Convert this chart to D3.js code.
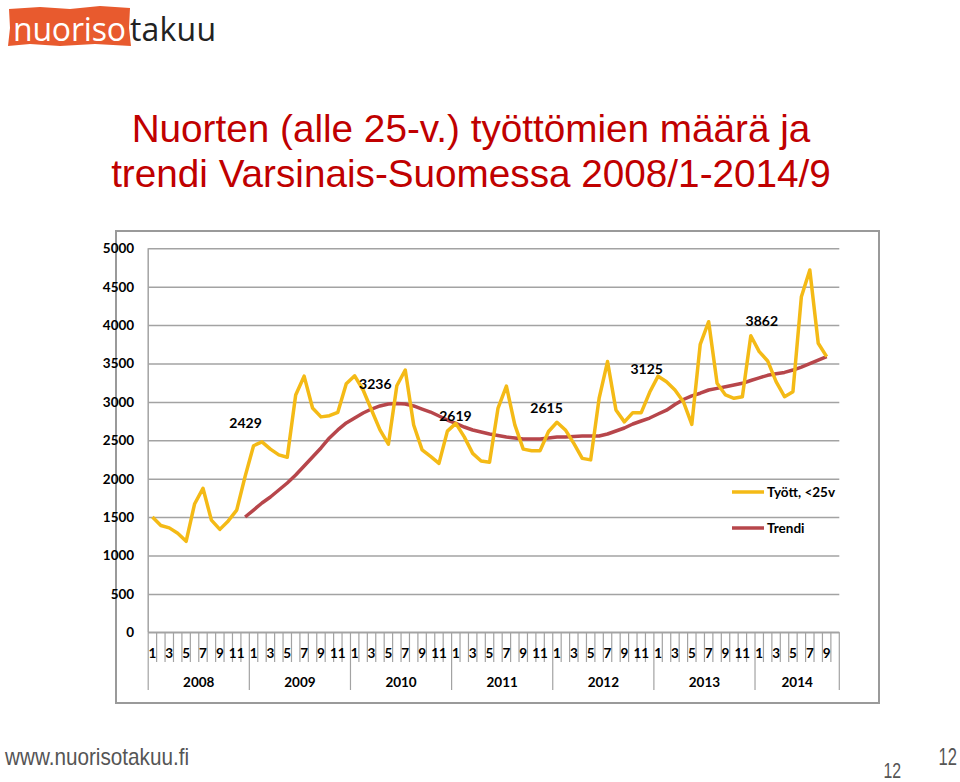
<!DOCTYPE html>
<html><head><meta charset="utf-8">
<script src="https://cdn.jsdelivr.net/npm/d3@7"></script>
<style>body{margin:0;background:#fff;} svg{display:block}</style>
</head><body><svg id="c" width="960" height="782"></svg>
<script>
// ---------- data ----------
const years = ["2008","2009","2010","2011","2012","2013","2014"];
const monthsPerYear = [12,12,12,12,12,12,10];
const youngUnemployed = [
  1500,1390,1360,1290,1185,1670,1875,1460,1340,1450,1590,2030,
  2429,2480,2385,2310,2280,3090,3335,2920,2805,2820,2865,3236,
  3340,3155,2895,2635,2450,3210,3415,2700,2375,2290,2200,2619,
  2720,2545,2330,2230,2215,2915,3205,2700,2385,2365,2365,2615,
  2735,2635,2460,2265,2245,3045,3525,2895,2740,2860,2860,3125,
  3335,3263,3155,3003,2708,3750,4044,3242,3090,3047,3068,3862,
  3654,3533,3263,3068,3133,4370,4717,3763,3589
];
const trend = [
  null,null,null,null,null,null,null,null,null,null,null,1501,
  1592,1684,1762,1853,1944,2048,2165,2283,2400,2530,2635,2726,
  2790,2855,2907,2947,2973,2979,2973,2947,2907,2868,2816,2764,
  2719,2673,2634,2608,2582,2562,2543,2530,2517,2517,2517,2530,
  2543,2543,2549,2556,2556,2556,2582,2621,2660,2712,2751,2790,
  2842,2892,2966,3031,3079,3113,3155,3176,3198,3220,3242,3279,
  3313,3346,3367,3384,3415,3454,3497,3543,3590
];
const yTicks = [0,500,1000,1500,2000,2500,3000,3500,4000,4500,5000];
const seriesNames = ["Tyött, <25v","Trendi"];
const labelledPoints = [12,23,35,47,59,71];

// ---------- layout / style ----------
const labelOffsets = [[-8,-23],[29,0],[8,-15],[-2,-23],[-3,-23],[11,-15]];
const colors = ["#F4BA16","#B7464B"];
const font = "Lato, 'Open Sans', sans-serif";
const svg = d3.select("#c");

// categories
const cats = [];
years.forEach((y,yi)=>{ for(let m=1;m<=monthsPerYear[yi];m++) cats.push({year:y,month:m,yi}); });
const nCat = cats.length;

const L = 148.2, R = 839.3, T = 248.3, B = 632.3;
const x = d3.scaleBand().domain(d3.range(nCat)).range([L,R]).padding(0);
const xc = i => x(i) + x.bandwidth()/2;
const y = d3.scaleLinear().domain([0,5000]).range([B,T]);

// ---------- logo ----------
const logo = svg.append("g");
logo.append("path")
  .attr("d","M9,9 L40,7 L70,9 L100,6 L130,8 L129,28 L131,46 L95,44 L60,46 L30,44 L8,46 L10,28 Z")
  .attr("fill","#E85A2E");
logo.append("text").attr("x",13).attr("y",41).attr("font-family","'Open Sans', sans-serif")
  .attr("font-size",32).attr("fill","#fff").attr("textLength",113).text("nuoriso");
logo.append("text").attr("x",130).attr("y",41).attr("font-family","'Open Sans', sans-serif")
  .attr("font-size",32).attr("fill","#222").attr("textLength",86).text("takuu");

// ---------- title ----------
const title = svg.append("text").attr("text-anchor","middle")
  .attr("font-family","'Liberation Sans', Arial, sans-serif").attr("font-size",38.7).attr("fill","#C00000");
title.append("tspan").attr("x",471).attr("y",142).text("Nuorten (alle 25-v.) työttömien määrä ja");
title.append("tspan").attr("x",471).attr("y",187).text("trendi Varsinais-Suomessa 2008/1-2014/9");

// ---------- chart frame ----------
svg.append("rect").attr("x",116).attr("y",231).attr("width",763).attr("height",472)
  .attr("fill","#fff").attr("stroke","#9a9a9a").attr("stroke-width",2);

// gridlines
const grid = svg.append("g").attr("transform",`translate(${L},0)`)
  .call(d3.axisLeft(y).tickValues(yTicks).tickSize(-(R-L)).tickFormat(""));
grid.select(".domain").remove();
grid.selectAll("line").attr("stroke","#a3a3a3").attr("stroke-width",1.5);

// y axis labels
const ya = svg.append("g").attr("transform",`translate(${L},0)`)
  .call(d3.axisLeft(y).tickValues(yTicks).tickSize(0).tickPadding(14).tickFormat(d3.format("d")));
ya.select(".domain").remove();
ya.selectAll("text").attr("font-family",font).attr("font-weight","bold").attr("font-size",13.5).attr("fill","#000");

// y axis line
svg.append("line").attr("x1",L).attr("x2",L).attr("y1",T).attr("y2",B)
  .attr("stroke","#a3a3a3").attr("stroke-width",1.5);

// x axis
const xa = svg.append("g");
xa.append("line").attr("x1",L).attr("x2",R).attr("y1",B).attr("y2",B).attr("stroke","#a3a3a3").attr("stroke-width",1.5);
d3.range(nCat+1).forEach(i=>{
  const xx = i<nCat ? x(i) : R;
  const yearBoundary = i===nCat || cats[i].month===1;
  xa.append("line").attr("x1",xx).attr("x2",xx).attr("y1",B)
    .attr("y2", yearBoundary ? 690 : 662).attr("stroke","#a3a3a3").attr("stroke-width",1.2);
});
xa.selectAll("text.m").data(cats.filter(c=>c.month%2===1)).join("text")
  .attr("class","m")
  .attr("x",(d)=>xc(cats.indexOf(d))).attr("y",657.5).attr("text-anchor","middle")
  .attr("font-family",font).attr("font-weight","bold").attr("font-size",13.5).text(d=>d.month);
let start = 0;
years.forEach((yr,yi)=>{
  const s = start, e = start + monthsPerYear[yi];
  const xm = (x(s) + (e<nCat ? x(e) : R))/2;
  xa.append("text").attr("x",xm).attr("y",687).attr("text-anchor","middle")
    .attr("font-family",font).attr("font-weight","bold").attr("font-size",13.5).text(yr);
  start = e;
});

// ---------- lines ----------
const line = d3.line().defined(d=>d!=null).x((d,i)=>xc(i)).y(d=>y(d));
svg.append("path").datum(trend).attr("d",line).attr("fill","none")
  .attr("stroke",colors[1]).attr("stroke-width",3.5).attr("stroke-linejoin","round");
svg.append("path").datum(youngUnemployed).attr("d",line).attr("fill","none")
  .attr("stroke",colors[0]).attr("stroke-width",3.5).attr("stroke-linejoin","round");

// data labels
labelledPoints.forEach((i,k)=>{
  svg.append("text").attr("x",xc(i)+labelOffsets[k][0]).attr("y",y(youngUnemployed[i])+labelOffsets[k][1])
    .attr("dy","0.35em").attr("text-anchor","middle")
    .attr("font-family",font).attr("font-weight","bold").attr("font-size",14).attr("fill","#000")
    .text(youngUnemployed[i]);
});

// legend
seriesNames.forEach((n,k)=>{
  const ly = 492 + k*36;
  svg.append("line").attr("x1",732).attr("x2",764).attr("y1",ly).attr("y2",ly)
    .attr("stroke",colors[k]).attr("stroke-width",3.5);
  svg.append("text").attr("x",767).attr("y",ly).attr("dy","0.35em")
    .attr("font-family",font).attr("font-weight","bold").attr("font-size",13.5).text(n);
});

// ---------- footer ----------
const ff = "'Liberation Sans', Arial, sans-serif";
svg.append("text").attr("transform","translate(5,765) scale(0.9,1)").attr("font-family",ff).attr("font-size",23)
  .attr("fill","#555").text("www.nuorisotakuu.fi");
svg.append("text").attr("transform","translate(957,765) scale(0.72,1)").attr("text-anchor","end").attr("font-family",ff)
  .attr("font-size",23).attr("fill","#555").text("12");
svg.append("text").attr("transform","translate(901,778) scale(0.72,1)").attr("text-anchor","end").attr("font-family",ff)
  .attr("font-size",22).attr("fill","#555").text("12");
</script></body></html>
